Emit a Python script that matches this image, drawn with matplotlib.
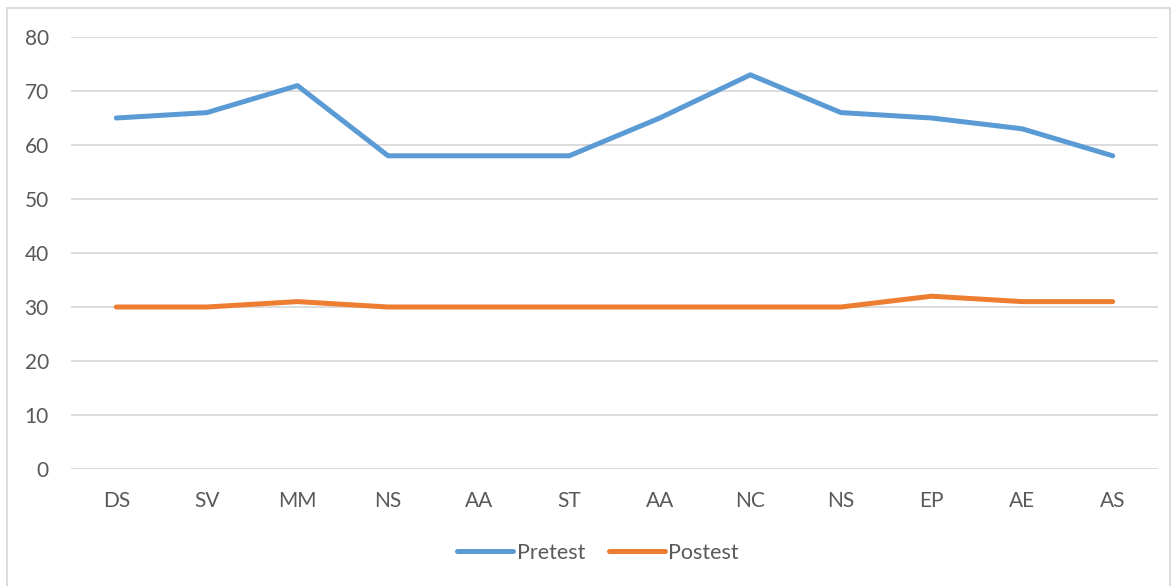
import matplotlib.pyplot as plt
from matplotlib.patches import Rectangle

categories = ["DS", "SV", "MM", "NS", "AA", "ST", "AA", "NC", "NS", "EP", "AE", "AS"]
pretest = [65, 66, 71, 58, 58, 58, 65, 73, 66, 65, 63, 58]
postest = [30, 30, 31, 30, 30, 30, 30, 30, 30, 32, 31, 31]

plt.rcParams['font.family'] = ['Lato', 'DejaVu Sans']

W, H = 1172, 586
fig = plt.figure(figsize=(W / 100, H / 100), dpi=100)
ax = fig.add_axes([71 / W, 1 - 469 / H, (1158 - 71) / W, (469 - 37) / H])

x = range(len(categories))
ax.plot(x, pretest, color="#5b9bd5", lw=3.6, solid_capstyle="round",
        solid_joinstyle="round", label="Pretest", zorder=3)
ax.plot(x, postest, color="#ed7d31", lw=3.6, solid_capstyle="round",
        solid_joinstyle="round", label="Postest", zorder=3)

ax.set_xlim(-0.5, len(categories) - 0.5)
ax.set_ylim(0, 80)
ax.set_yticks(range(0, 81, 10))
ax.set_xticks(list(x))
ax.set_xticklabels(categories)
ax.grid(axis="y", color="#d9d9d9", lw=1.3)
ax.set_axisbelow(True)
for s in ax.spines.values():
    s.set_visible(False)
ax.tick_params(axis="both", length=0, labelsize=15, colors="#595959")
ax.tick_params(axis="y", pad=16)
ax.tick_params(axis="x", pad=16)

fig.legend(loc="center", bbox_to_anchor=(598 / W, 1 - 553 / H), ncol=2,
           frameon=False, fontsize=15.5, labelcolor="#595959",
           handlelength=2.6, handletextpad=0.15, columnspacing=1.1)

# light outer frame around the chart
fig.patches.append(Rectangle((7 / W, -0.01), (1170 - 7) / W, 1 - 8 / H + 0.01,
                             transform=fig.transFigure, fill=False,
                             edgecolor="#d9d9d9", lw=1.3))

fig.savefig("out.png", dpi=100)
